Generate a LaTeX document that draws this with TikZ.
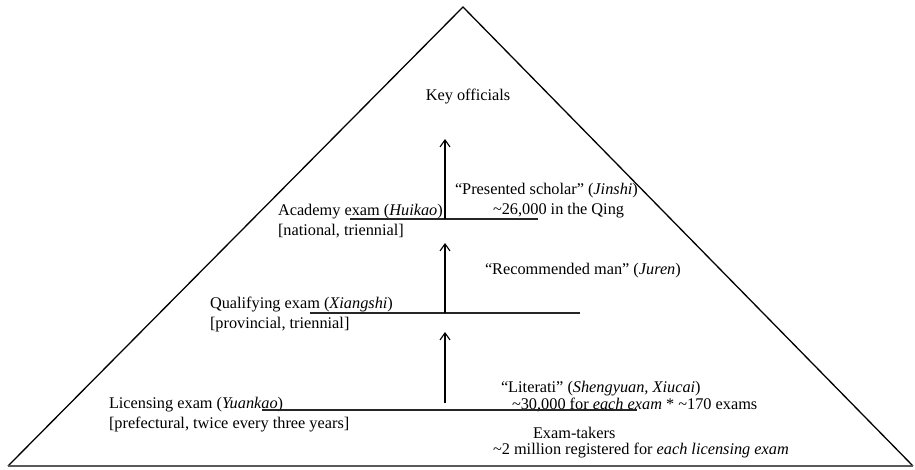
\documentclass[tikz,border=0pt]{standalone}
\usepackage{fontspec}
\setmainfont{Liberation Serif}
\usetikzlibrary{arrows.meta}
\tikzset{
  lbl/.style={anchor=base west, inner sep=0pt, outer sep=0pt, font=\fontsize{16.3}{20}\selectfont},
  lblc/.style={anchor=base, inner sep=0pt, outer sep=0pt, font=\fontsize{16.3}{20}\selectfont},
  tier/.style={line width=1.1pt, draw=black!85},
  uparrow/.style={line width=1.1pt, -{Straight Barb[length=7pt,width=10pt,line width=1.1pt]}},
  edge/.style={line width=1.3pt, line join=miter}
}
\begin{document}
\begin{tikzpicture}[x=1pt,y=-1pt]
\useasboundingbox (0,0) rectangle (915,469);
% pyramid
\coordinate (apex) at (463,7);
\coordinate (bl) at (8,466);
\coordinate (br) at (913,466);
\draw[edge] (bl) -- (apex) -- (br);
\draw[line width=1.3pt, draw=black!65] (bl) -- (br);

% texts
\node[lblc] (key) at (468,100) {Key officials};

\node[lbl] (pres) at (455,194) {“Presented scholar” (\textit{Jinshi})};
\node[lbl] (pres2) at (493,214) {\char`\~26,000 in the Qing};
\node[lbl] (acad) at (278,215) {Academy exam (\textit{Huikao})};
\node[lbl] (acad2) at (278,235) {[national, triennial]};

\node[lbl] (rec) at (485,274) {“Recommended man” (\textit{Juren})};
\node[lbl] (qual) at (210,308) {Qualifying exam (\textit{Xiangshi})};
\node[lbl] (qual2) at (210,328) {[provincial, triennial]};

\node[lbl] (lit) at (501,392) {“Literati” (\textit{Shengyuan, Xiucai})};
\node[lbl] (lit2) at (512,409) {\char`\~30,000 for \textit{each exam} * \char`\~170 exams};
\node[lbl] (lic) at (109,408) {Licensing exam (\textit{Yuankao})};
\node[lbl] (lic2) at (109,428) {[prefectural, twice every three years]};

\node[lbl] (tak) at (533,438) {Exam-takers};
\node[lbl] (tak2) at (493,454) {\char`\~2 million registered for \textit{each licensing exam}};

% tier lines
\coordinate (a1) at (350,219); \coordinate (a2) at (538,219);
\coordinate (q1) at (310,313); \coordinate (q2) at (580,313);
\coordinate (l1) at (262,410); \coordinate (l2) at (637,410);
\draw[tier] (a1) -- (a2);
\draw[tier] (q1) -- (q2);
\draw[tier] (l1) -- (l2);

% arrows
\coordinate (s1) at (445,219); \coordinate (t1) at (445,139);
\coordinate (s2) at (445,313); \coordinate (t2) at (445,243);
\coordinate (s3) at (445,403); \coordinate (t3) at (445,332);
\draw[uparrow] (s1) -- (t1);
\draw[uparrow] (s2) -- (t2);
\draw[uparrow] (s3) -- (t3);
\end{tikzpicture}
\end{document}
